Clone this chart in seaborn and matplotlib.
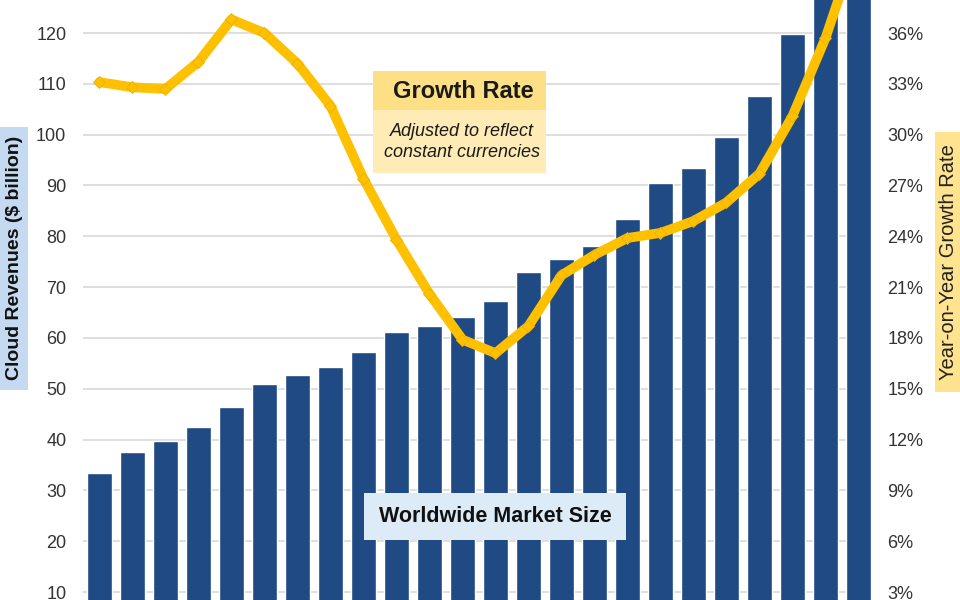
import numpy as np
import pandas as pd
import matplotlib
matplotlib.use("Agg")
import matplotlib.pyplot as plt
from matplotlib.patches import Rectangle
from matplotlib.ticker import FuncFormatter
import seaborn as sns

# ---- data ----
periods = [f"P{i+1}" for i in range(24)]
revenues = [33.5, 37.6, 39.7, 42.4, 46.4, 51.0, 52.7, 54.3, 57.3, 61.1, 62.4, 64.2,
            67.2, 72.9, 75.5, 78.1, 83.5, 90.4, 93.4, 99.6, 107.6, 119.9, 131.0, 140.0]
growth_pct = [33.1, 32.8, 32.7, 34.3, 36.8, 36.0, 34.2, 31.7, 27.4, 23.8, 20.6, 17.9,
              17.1, 18.7, 21.7, 22.9, 23.9, 24.2, 24.9, 26.0, 27.7, 31.1, 35.7, 41.5]
left_ticks = [10, 20, 30, 40, 50, 60, 70, 80, 90, 100, 110, 120]
right_ticks = [3, 6, 9, 12, 15, 18, 21, 24, 27, 30, 33, 36]

sns.set_theme(style="white")
plt.rcParams["font.family"] = ["Liberation Sans", "DejaVu Sans"]

BAR = "#1F4A84"
GOLD = "#FFC000"

fig = plt.figure(figsize=(9.6, 6.0), dpi=100)
ax = fig.add_axes([83 / 960, 0.0, 789 / 960, 1.0])

df = pd.DataFrame({"period": periods, "revenue": revenues,
                   "pos": np.arange(len(periods)), "growth": growth_pct})

sns.barplot(data=df, x="period", y="revenue", color=BAR, saturation=1,
            width=0.76, ax=ax, zorder=2)

ylo, yhi = 8.43, 126.5
ax.set_ylim(ylo, yhi)
ax.set_xlim(-0.5, 23.41)
ax.set_yticks(left_ticks)
ax.yaxis.grid(True, color="#D9D9D9", linewidth=1.2, zorder=0)
ax.set_axisbelow(True)
ax.set_xticks([])
ax.set_xlabel("")
ax.set_ylabel("")
ax.tick_params(axis="y", length=0, pad=12, labelsize=13, labelcolor="#333333")
for s in ax.spines.values():
    s.set_visible(False)

ax2 = ax.twinx()
sns.lineplot(data=df, x="pos", y="growth", color=GOLD, linewidth=7, marker="D",
             markersize=6.5, markerfacecolor=GOLD, markeredgecolor="#EDB000",
             markeredgewidth=0.6, sort=False, ax=ax2, zorder=5)
ax2.set_ylim(ylo * 0.3, yhi * 0.3)
ax2.set_yticks(right_ticks)
ax2.yaxis.set_major_formatter(FuncFormatter(lambda v, p: f"{v:.0f}%"))
ax2.tick_params(axis="y", length=0, pad=11, labelsize=13, labelcolor="#333333")
ax2.set_xlabel("")
ax2.set_ylabel("")
ax2.grid(False)
for s in ax2.spines.values():
    s.set_visible(False)
ax.set_xlim(-0.5, 23.41)

W, H = 960.0, 600.0
def rect(x0, y0, x1, y1, color):
    fig.patches.append(Rectangle((x0 / W, 1 - y1 / H), (x1 - x0) / W, (y1 - y0) / H,
                                 transform=fig.transFigure, facecolor=color,
                                 edgecolor="none", zorder=10))

# left axis title box
rect(0, 127, 28, 390, "#C5D9F0")
fig.text(15 / W, 1 - 258 / H, "Cloud Revenues (\\$ billion)", rotation=90,
         ha="center", va="center", fontsize=14, fontweight="bold",
         color="#111111", zorder=11)

# right axis title box
rect(935, 132, 960, 392, "#FFE38F")
fig.text(948 / W, 1 - 262 / H, "Year-on-Year Growth Rate", rotation=90,
         ha="center", va="center", fontsize=14.5, color="#222222", zorder=11)

# Growth rate box
rect(373, 71, 546, 110, "#FDDF85")
rect(373, 110, 546, 173, "#FEEBB5")
fig.text(463 / W, 1 - 92 / H, "Growth Rate", ha="center", va="center",
         fontsize=17, fontweight="bold", color="#1A1A1A", zorder=11)
fig.text(462 / W, 1 - 142 / H, "Adjusted to reflect\nconstant currencies",
         ha="center", va="center", fontsize=13, style="italic",
         color="#1A1A1A", linespacing=1.35, zorder=11)

# Worldwide market size box
rect(364, 493, 626, 540, "#DDEBF7")
fig.text(495 / W, 1 - 516 / H, "Worldwide Market Size", ha="center", va="center",
         fontsize=15.5, fontweight="bold", color="#111111", zorder=11)

fig.savefig("out.png", dpi=100)
